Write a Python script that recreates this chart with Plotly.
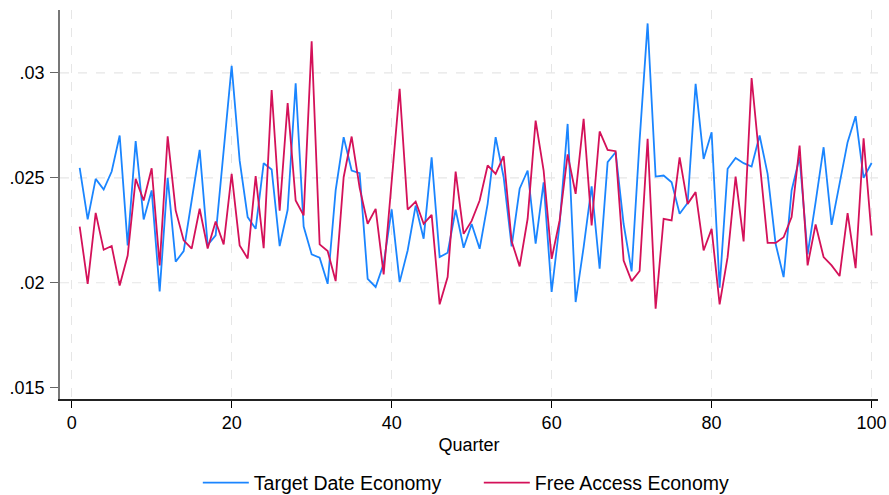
import plotly.graph_objects as go

quarters = list(range(1, 101))

target_date = [
    0.02548, 0.02302, 0.02495, 0.02444, 0.02530, 0.02702, 0.02178, 0.02675, 0.02302, 0.02440,
    0.01959, 0.02500, 0.02100, 0.02151, 0.02392, 0.02633, 0.02180, 0.02226, 0.02630, 0.03034,
    0.02582, 0.02313, 0.02257, 0.02570, 0.02540, 0.02175, 0.02348, 0.02951, 0.02268, 0.02135,
    0.02119, 0.01995, 0.02440, 0.02694, 0.02535, 0.02522, 0.02019, 0.01980, 0.02090, 0.02350,
    0.02003, 0.02154, 0.02368, 0.02210, 0.02598, 0.02122, 0.02143, 0.02348, 0.02167, 0.02280,
    0.02162, 0.02376, 0.02694, 0.02503, 0.02173, 0.02448, 0.02535, 0.02186, 0.02479, 0.01956,
    0.02280, 0.02757, 0.01908, 0.02170, 0.02460, 0.02067, 0.02575, 0.02622, 0.02280, 0.02054,
    0.02680, 0.03236, 0.02506, 0.02511, 0.02479, 0.02329, 0.02380, 0.02948, 0.02590, 0.02717,
    0.01976, 0.02543, 0.02595, 0.02570, 0.02554, 0.02702, 0.02519, 0.02186, 0.02027, 0.02440,
    0.02598, 0.02135, 0.02384, 0.02646, 0.02276, 0.02471, 0.02670, 0.02794, 0.02500, 0.02571,
]

free_access = [
    0.02268, 0.01995, 0.02333, 0.02157, 0.02175, 0.01987, 0.02130, 0.02495, 0.02392, 0.02546,
    0.02083, 0.02698, 0.02345, 0.02202, 0.02163, 0.02353, 0.02163, 0.02292, 0.02183, 0.02519,
    0.02178, 0.02116, 0.02508, 0.02165, 0.02919, 0.02344, 0.02856, 0.02392, 0.02321, 0.03151,
    0.02183, 0.02151, 0.02008, 0.02503, 0.02697, 0.02452, 0.02281, 0.02352, 0.02040, 0.02500,
    0.02924, 0.02349, 0.02387, 0.02281, 0.02324, 0.01897, 0.02027, 0.02530, 0.02233, 0.02295,
    0.02392, 0.02559, 0.02519, 0.02603, 0.02198, 0.02078, 0.02305, 0.02773, 0.02535, 0.02114,
    0.02297, 0.02612, 0.02424, 0.02781, 0.02273, 0.02721, 0.02633, 0.02627, 0.02106, 0.02008,
    0.02056, 0.02686, 0.01876, 0.02305, 0.02297, 0.02598, 0.02376, 0.02432, 0.02154, 0.02257,
    0.01897, 0.02122, 0.02506, 0.02197, 0.02976, 0.02580, 0.02190, 0.02190, 0.02217, 0.02313,
    0.02654, 0.02083, 0.02278, 0.02122, 0.02083, 0.02032, 0.02332, 0.02070, 0.02689, 0.02225,
]

y_tick_vals = [0.015, 0.02, 0.025, 0.03]
y_tick_text = [".015", ".02", ".025", ".03"]
y_grid_vals = [0.02, 0.025, 0.03]
x_tick_vals = [0, 20, 40, 60, 80, 100]

FONT = "Liberation Sans, Arial, Helvetica, sans-serif"
BLUE = "#1a85ff"
RED = "#d41159"

fig = go.Figure()
fig.add_trace(go.Scatter(x=quarters, y=target_date, mode="lines", name="Target Date Economy",
                         line=dict(color=BLUE, width=1.8)))
fig.add_trace(go.Scatter(x=quarters, y=free_access, mode="lines", name="Free Access Economy",
                         line=dict(color=RED, width=1.8)))

for gv in y_grid_vals:
    fig.add_shape(type="line", xref="paper", x0=0, x1=1, yref="y", y0=gv, y1=gv,
                  line=dict(color="#e6e6e6", width=1.2, dash="dash"), layer="below")

fig.update_layout(
    width=889, height=495,
    margin=dict(l=60, r=11, t=10, b=96, autoexpand=False),
    paper_bgcolor="white", plot_bgcolor="white",
    font=dict(family=FONT, size=18, color="black"),
    showlegend=True,
    legend=dict(orientation="h", x=0.512, xanchor="center", y=-0.216, yanchor="middle",
                font=dict(size=19.5), itemwidth=46, tracegroupgap=0,
                entrywidth=220, entrywidthmode="pixels"),
    xaxis=dict(
        range=[-1.46, 100.8], tickvals=x_tick_vals, ticks="outside", ticklen=7,
        tickcolor="black", tickwidth=1.2, showline=True, linecolor="#222", linewidth=1.5,
        showgrid=True, gridcolor="#e6e6e6", griddash="dash", gridwidth=1.2, zeroline=False,
        title=dict(text="Quarter", font=dict(size=18), standoff=6),
        tickfont=dict(size=18), ticklabelstandoff=0, automargin=False,
    ),
    yaxis=dict(
        range=[0.01446, 0.0330], tickvals=y_tick_vals, ticktext=y_tick_text,
        ticks="outside", ticklen=8, tickcolor="#666", tickwidth=1.2,
        showline=True, linecolor="#777", linewidth=1.5, showgrid=False, zeroline=False,
        tickfont=dict(size=18), ticklabelstandoff=2, automargin=False,
    ),
)

fig.write_html("out.html", config={"displayModeBar": False},
               post_script="document.body.style.margin='0';document.body.style.overflow='hidden';")
